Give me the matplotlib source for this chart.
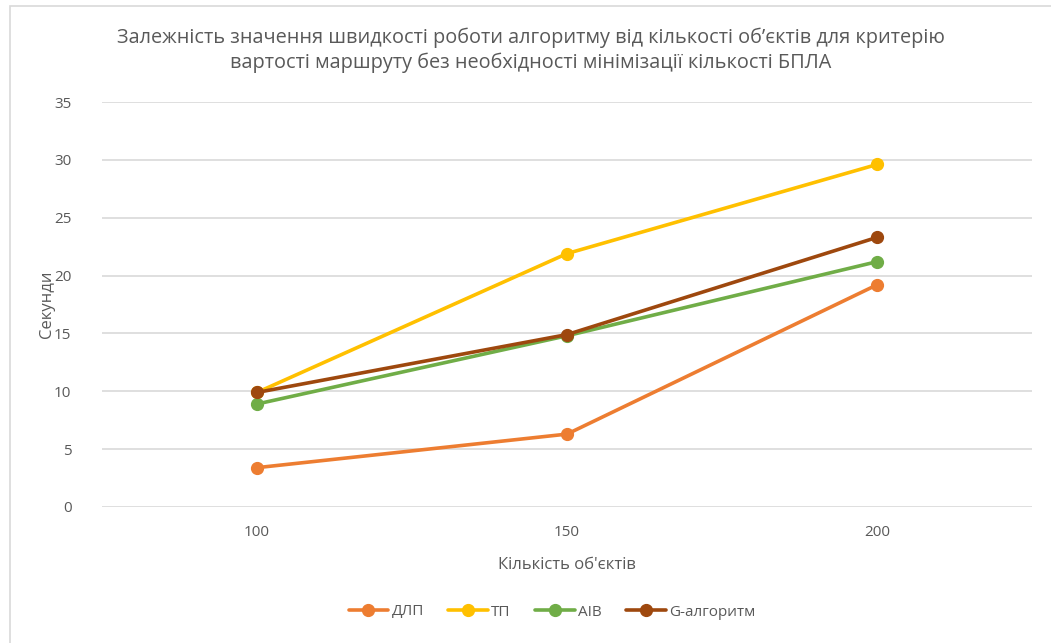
import matplotlib.pyplot as plt
from matplotlib.patches import Rectangle

plt.rcParams['font.family'] = ['Open Sans', 'DejaVu Sans']

objects = ["100", "150", "200"]
dlp = [3.4, 6.3, 19.2]
tp = [9.9, 21.9, 29.6]
aib = [8.9, 14.8, 21.2]
g_alg = [9.9, 14.9, 23.3]

series = [
    ("ДЛП", dlp, "#ED7D31"),
    ("ТП", tp, "#FFC000"),
    ("AIB", aib, "#70AD47"),
    ("G-алгоритм", g_alg, "#9E480E"),
]

text_col = "#595959"

fig = plt.figure(figsize=(10.51, 6.43), dpi=100)
ax = fig.add_axes([102 / 1051, 1 - 507 / 643, 930 / 1051, 405 / 643])

xs = range(len(objects))
for name, vals, col in series:
    ax.plot(xs, vals, color=col, lw=2.6, marker="o", ms=8.5,
            solid_capstyle="round", label=name, zorder=3)

ax.set_xlim(-0.5, len(objects) - 0.5)
ax.set_ylim(0, 35)
ax.set_yticks(range(0, 36, 5))
ax.set_xticks(list(xs))
ax.set_xticklabels(objects)
ax.grid(axis="y", color="#D9D9D9", lw=1.2)
ax.set_axisbelow(True)
for s in ax.spines.values():
    s.set_visible(False)
ax.tick_params(length=0, labelsize=11, colors=text_col, pad=13)
ax.tick_params(axis="y", pad=22)

ax.set_xlabel("Кількість об'єктів", fontsize=12, color=text_col, labelpad=12)
ax.set_ylabel("Секунди", fontsize=12, color=text_col)
ax.yaxis.set_label_coords(-0.05, 0.5)

fig.text(0.505, 0.922,
         "Залежність значення швидкості роботи алгоритму від кількості об’єктів для критерію\n"
         "вартості маршруту без необхідності мінімізації кількості БПЛА",
         ha="center", va="center", fontsize=14.3, color=text_col, linespacing=1.3)

fig.legend(loc="center", bbox_to_anchor=(0.525, 1 - 612 / 643), ncol=4,
           frameon=False, fontsize=11, labelcolor=text_col, handlelength=2.6,
           handletextpad=0.2, columnspacing=1.6)

# thin outer frame of the chart area
fig.patches.append(Rectangle((10 / 1051, -0.05), 1.1, 1 - 6 / 643 + 0.05,
                             transform=fig.transFigure, fill=False,
                             edgecolor="#D9D9D9", lw=1.2))

fig.savefig("out.png", dpi=100)
